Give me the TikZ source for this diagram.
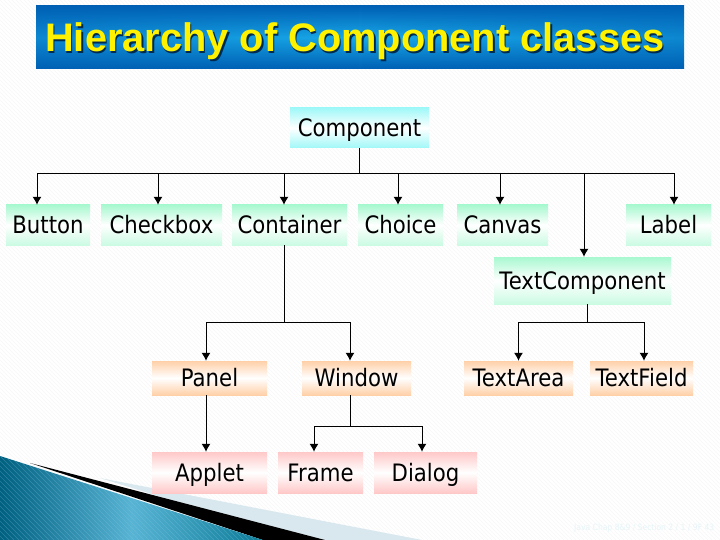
\documentclass[tikz,border=0pt]{standalone}
\usepackage{fontspec}
\setmainfont{DejaVu Sans}[FakeStretch=0.885]
\newfontfamily\titlefont{Liberation Sans}
\usetikzlibrary{arrows.meta,fadings}
\definecolor{hatch}{HTML}{F7F7F7}
\definecolor{cyanb}{HTML}{A0F8F8}
\definecolor{greenb}{HTML}{A8F8D0}
\definecolor{orangeb}{HTML}{FFD0A8}
\definecolor{pinkb}{HTML}{FFC8C8}
\definecolor{titleedge}{HTML}{0060B4}
\definecolor{titlemid}{HTML}{18A8E8}
\definecolor{tealdark}{HTML}{006080}
\definecolor{teallight}{HTML}{58B4D4}
\definecolor{tealright}{HTML}{0C7C98}
\definecolor{paleband}{HTML}{D8E8EE}
\definecolor{footer}{HTML}{E6F5F9}
\tikzfading[name=sideedge,left color=transparent!0,right color=transparent!0,middle color=transparent!100]
\tikzset{
  x=1pt,y=-1pt,
  cyanbox/.style={top color=cyanb,bottom color=cyanb,middle color=white},
  greenbox/.style={top color=greenb,bottom color=greenb!60,middle color=white},
  orangebox/.style={top color=orangeb,bottom color=orangeb,middle color=white},
  pinkbox/.style={top color=pinkb,bottom color=pinkb,middle color=white},
  conn/.style={draw=black,line width=1pt},
  arr/.style={conn,-{Latex[length=8pt,width=9pt]}},
  hatchline/.style={draw=hatch,line width=0.6pt},
  titletext/.style={inner sep=0pt,anchor=base west,font=\titlefont\bfseries\fontsize{39.8}{40}\selectfont}
}
\newcommand{\bx}[7]{\path[shade,#1] (#3,#5) rectangle (#4,#6);
  \node[inner sep=0pt,text height=17.5pt,text depth=0pt,minimum width=#4pt-#3pt,minimum height=#6pt-#5pt,font=\fontsize{24}{24}\selectfont] (#2) at ({(#3+#4)/2},{(#5+#6)/2}) {#7};}
\begin{document}
\begin{tikzpicture}
\useasboundingbox (0,0) rectangle (720,540);
\fill[white] (0,0) rectangle (720,540);
\begin{scope}
\clip (0,0) rectangle (720,540);
\foreach \k in {-140,...,180} {\draw[hatchline] ({\k*4},0) -- ({\k*4+540},540);}
\end{scope}
% decoration
\fill[paleband] (100,478) -- (422,540) -- (300,540) -- cycle;
\fill[black] (30,463) -- (325,540) -- (263,540) -- cycle;
\begin{scope}
\clip (0,456) -- (263,540) -- (0,540) -- cycle;
\shade[left color=tealdark,right color=tealright,middle color=teallight] (0,456) rectangle (263,540);
\foreach \k in {-30,...,70} {\draw[teallight!70,line width=0.4pt,opacity=0.3] ({\k*5},456) -- ({\k*5+84},540);}
\end{scope}
% title
\shade[top color=titleedge,bottom color=titleedge,middle color=titlemid] (36,6) rectangle (684,69);
\fill[titleedge,path fading=sideedge,opacity=0.45] (36,6) rectangle (684,69);
\node[titletext,text=black!55!titleedge] at (46.5,53.5) {Hierarchy of Component classes};
\node[titletext,text=yellow] (title) at (45,52) {Hierarchy of Component classes};
% footer: nearly invisible in the reference, wording is a best reading
\node[inner sep=0pt,anchor=base west,text=footer,font=\fontsize{8.6}{9}\selectfont] (foot) at (574,530) {Java Chap 8\&9 / Section 2 / 1 / 9F 43};
% boxes
\bx{cyanbox}{comp}{290}{429}{108}{148}{Component}
\bx{greenbox}{btn}{6}{90}{205}{245}{Button}
\bx{greenbox}{chk}{101}{222}{205}{245}{Checkbox}
\bx{greenbox}{cont}{232}{347}{205}{245}{Container}
\bx{greenbox}{choi}{358}{443}{205}{245}{Choice}
\bx{greenbox}{canv}{457}{548}{205}{245}{Canvas}
\bx{greenbox}{lab}{626}{711}{205}{245}{Label}
\bx{greenbox}{tcomp}{494}{671}{257}{304}{TextComponent}
\bx{orangebox}{pan}{152}{267}{361}{395}{Panel}
\bx{orangebox}{win}{302}{411}{361}{395}{Window}
\bx{orangebox}{tarea}{464}{573}{361}{395}{TextArea}
\bx{orangebox}{tfield}{590}{693}{361}{395}{TextField}
\bx{pinkbox}{app}{152}{267}{452}{493}{Applet}
\bx{pinkbox}{frm}{278}{363}{452}{493}{Frame}
\bx{pinkbox}{dlg}{374}{477}{452}{493}{Dialog}
% junctions
\coordinate (busa) at ([yshift=-25pt]comp.south);
\coordinate (busb) at ([xshift=-5.5pt,yshift=-77pt]cont.south);
\coordinate (busc) at ([xshift=5pt,yshift=-18pt]tcomp.south);
\coordinate (busd) at ([xshift=-6.5pt,yshift=-31pt]win.south);
% connectors
\draw[conn] (comp.south) -- (busa);
\draw[arr] (busa) -| ([xshift=-11pt]btn.north);
\draw[arr] (busa) -| ([xshift=-3.5pt]chk.north);
\draw[arr] (busa) -| ([xshift=-5.5pt]cont.north);
\draw[arr] (busa) -| ([xshift=-2.5pt]choi.north);
\draw[arr] (busa) -| ([xshift=-2.5pt]canv.north);
\draw[arr] (busa) -| ([xshift=1.5pt]tcomp.north);
\draw[arr] (busa) -| ([xshift=5.5pt]lab.north);
\draw[conn] ([xshift=-5.5pt]cont.south) -- (busb);
\draw[arr] (busb) -| ([xshift=-3.5pt]pan.north);
\draw[arr] (busb) -| ([xshift=-6.5pt]win.north);
\draw[conn] ([xshift=5pt]tcomp.south) -- (busc);
\draw[arr] (busc) -| (tarea.north);
\draw[arr] (busc) -| ([xshift=2.5pt]tfield.north);
\draw[arr] ([xshift=-3.5pt]pan.south) -- ([xshift=-3.5pt]app.north);
\draw[conn] ([xshift=-6.5pt]win.south) -- (busd);
\draw[arr] (busd) -| ([xshift=-6.5pt]frm.north);
\draw[arr] (busd) -| ([xshift=-3.5pt]dlg.north);
\end{tikzpicture}
\end{document}
